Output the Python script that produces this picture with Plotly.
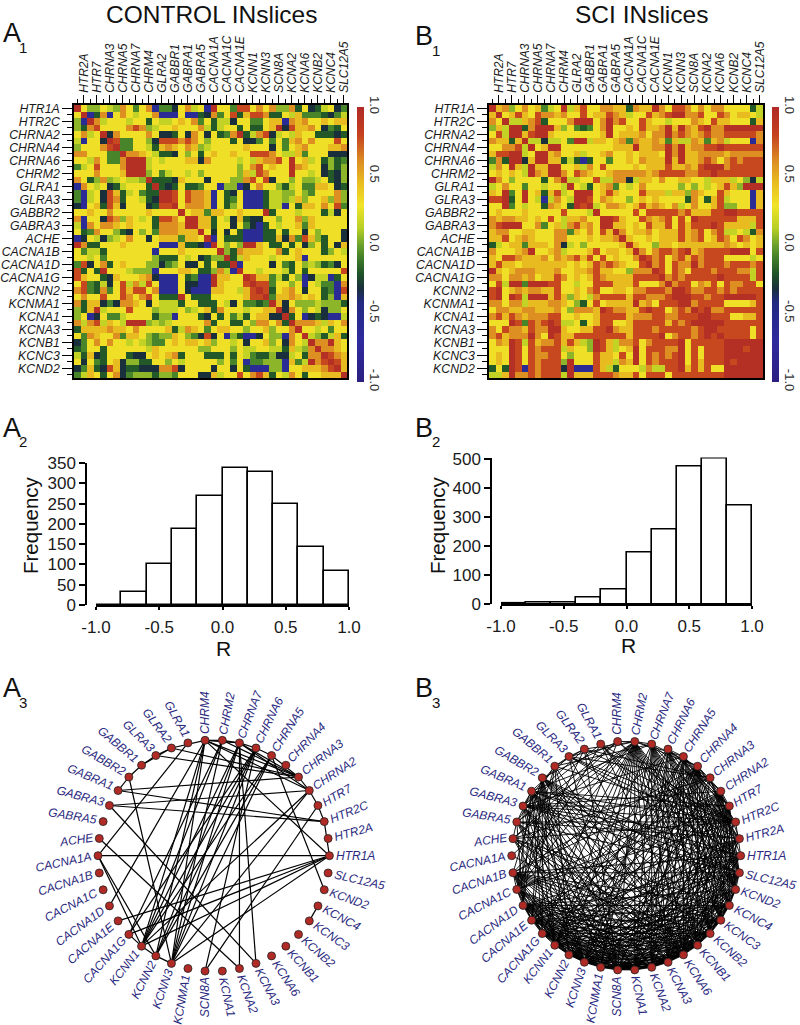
import math
import plotly.graph_objects as go

GENES = ["HTR1A","HTR2A","HTR2C","HTR7","CHRNA2","CHRNA3","CHRNA4","CHRNA5","CHRNA6","CHRNA7","CHRM2","CHRM4",
         "GLRA1","GLRA2","GLRA3","GABBR1","GABBR2","GABRA1","GABRA3","GABRA5","ACHE","CACNA1A","CACNA1B","CACNA1C",
         "CACNA1D","CACNA1E","CACNA1G","KCNN1","KCNN2","KCNN3","KCNMA1","SCN8A","KCNA1","KCNA2","KCNA3","KCNA6",
         "KCNB1","KCNB2","KCNC3","KCNC4","KCND2","SLC12A5"]
LABEL_TILT = [0,15,22,30,33,38,46,57,64,69,79,90,-61,-53,-45,-40,-30,-23,-15,-9,8,12,18,27,36,40,48,52,63,71,80,90,
              -78,-70,-63,-57,-48,-42,-35,-28,-20,-13]

# Correlation levels (upper triangle, each row starts on the diagonal)
LEVELS = {"9":0.95,"8":0.78,"7":0.6,"6":0.45,"5":0.3,"4":0.15,"3":0.05,"2":-0.08,"1":-0.2,"0":-0.32,"b":-0.6}
CONTROL_ROWS = [
"953354375257b2205745b 955288575733715014502",
"9b17b57545 57bbb5bb10 725816887115462221024",
"9745554551544565725 14405522566b767556566",
"855557873455655574 145515115690866750215",
"90755557500150750 512791478045465511101",
"9822553088878753 555150025252675755585",
"922554167657634 555556555052567555667",
"97765411053515 655655888754462555000",
"9994545556607 555545467785956451312",
"994555555555 555535785655976550313",
"93524554535 555536487555955450103",
"9111065550 555337858055353345103",
"910151125 5b33b0575531452266501",
"99858776 b5105bbb1443353255573",
"9858776 b5125bbb1443463556373",
"957776 b5135bbb144b516657582",
"95662 665565559155545551405",
"9966 154061005535573655555",
"966 1550520b1545562655555",
"95 05051bbb1151550535550",
"9 b5111bbb1160728631550",
"953539965115150351506",
"93176665571565551354",
"914655545556b555555",
"9b5555052153431205",
"95545554151555558",
"986624153b044b15",
"98825535b5422b7",
"981567505512b8",
"92667656513b6",
"960533343331",
"90753540335",
"915b010bb4",
"977764657",
"95545255",
"9431461",
"977965",
"97765",
"9876",
"986",
"96",
"9",
]
SCI_ROWS = [
"967357562459468557766 176697588757577555514",
"95686587767558566876 455867899778558756654",
"9446781555799957978 558655455576586655516",
"991799963521257955 658667969768977999999",
"96899655555556956 667577978767877888887",
"9440445299466567 276676264476267 4555b7",
"956995555555566 696677979677889888888",
"99675564556755 656665979667777677777",
"966141b155255 657666969667875787888",
"995564758555 565666866768999788888",
"97587655677 777678888778898888888",
"9445584477 046657556655466645304",
"954156725 457555553535456863999",
"99956865 5586664663765586555b6",
"9857655 3565655551751684555b6",
"945776 5686765745755683355b6",
"95555 585888887866688998888",
"9986 558767858598888886668",
"966 565866858688898666648",
"97 566756668678578445417",
"9 655656668678568758756",
"965536656666666765656",
"97578878967888899958",
"9878578687888555545",
"978587797888788878",
"98587588878887748",
"9787888889888848",
"978857685877885",
"99877887878888",
"9988788999998",
"978888555568",
"98977888888",
"9988855668",
"999888888",
"98888858",
"9888858",
"999999",
"99899",
"9999",
"999",
"99",
"9",
]
HIST_BINS = [-0.9,-0.7,-0.5,-0.3,-0.1,0.1,0.3,0.5,0.7,0.9]
CONTROL_FREQ = [0,33,100,187,268,337,327,250,144,84]
SCI_FREQ = [3,4,4,23,50,178,258,473,502,340]
CONTROL_EDGES = [(0,21),(0,27),(0,29),(0,26),(0,25),(0,11),(7,40),(38,39),(11,27),(11,28),(11,29),(11,5),(11,4),(11,9),
 (11,10),(11,24),(11,13),(10,27),(10,29),(10,26),(10,5),(10,9),(9,27),(9,28),(9,29),(9,33),(9,34),(9,5),(9,4),(9,8),
 (8,27),(8,28),(8,29),(8,31),(8,7),(8,26),(7,27),(7,28),(7,29),(7,5),(5,4),(4,3),(3,2),(2,0),(4,27),(4,29),(3,31),
 (17,5),(17,2),(18,4),(18,2),(18,34),(20,33),(16,29),(21,12),(21,27),(21,28),(13,5),(14,5),(13,14),(14,15),(15,16),
 (16,17),(26,27),(27,28),(28,29),(13,15)]
SCI_EDGE_CUTOFF = 0.55

COLORSCALE = [[0,"#2a1f80"],[0.15,"#2f2ba0"],[0.29,"#222a80"],[0.34,"#1a2f3c"],[0.39,"#1e5029"],[0.45,"#3f7d2a"],
              [0.5,"#6da32c"],[0.56,"#b8cf26"],[0.64,"#f0e428"],[0.725,"#e8bc20"],[0.8,"#dd8f22"],[0.9,"#c4401f"],[1,"#b02a26"]]
W, H = 800, 1025
FONT = "Liberation Sans"
INK = "#1a1a1a"
NAVY = "#2b2a80"
CHAR_W = dict(H=.722,T=.611,R=.722,A=.667,C=.722,N=.722,M=.833,G=.778,L=.556,B=.667,E=.667,K=.667,D=.722,S=.667,O=.778,F=.611)

def matrix(rows):
    n = len(GENES)
    m = [[0.0]*n for _ in range(n)]
    for i, row in enumerate(rows):
        for k, ch in enumerate(row.replace(" ", "")):
            if i + k < n:
                m[i][i+k] = m[i+k][i] = LEVELS[ch]
    return m

CONTROL = matrix(CONTROL_ROWS)
SCI = matrix(SCI_ROWS)
fx = lambda x: x / W
fy = lambda y: 1 - y / H
fig = go.Figure()
layout = {}
idx = list(range(len(GENES)))

def heat(z, n, box, cbar_x):
    x0, x1, y0, y1 = box
    xa, ya = ("xaxis%d" % n, "yaxis%d" % n)
    fig.add_trace(go.Heatmap(z=z, x=idx, y=idx, xaxis="x%d" % n, yaxis="y%d" % n, zmin=-1, zmax=1, colorscale=COLORSCALE,
        hoverinfo="skip",
        colorbar=dict(x=fx(cbar_x), xanchor="left", y=fy(107), yanchor="top", len=275/H, thickness=7, outlinewidth=0,
                      xpad=0, ypad=0, tickmode="array", tickvals=[-1,-.5,0,.5,1], ticktext=["-1.0","-0.5","0.0","0.5","1.0"],
                      tickangle=90, ticks="", tickfont=dict(size=13, color="#333", family=FONT))))
    odd = idx[1::2]; even = idx[0::2]
    layout[xa] = dict(domain=[fx(x0), fx(x1)], range=[-.5, 41.5], side="top", anchor="y%d" % n, showline=True, mirror=True,
        linecolor="black", linewidth=1.5, showgrid=False, zeroline=False, ticks="outside", ticklen=8, tickcolor="black", tickwidth=1,
        tickmode="array", tickvals=odd, ticktext=[GENES[i] for i in odd], tickangle=-90,
        tickfont=dict(size=12, family=FONT, style="italic", color=INK),
        minor=dict(ticks="outside", ticklen=4, tickcolor="black", tickwidth=1, tickmode="array", tickvals=even, showgrid=False))
    layout[ya] = dict(domain=[fy(y1), fy(y0)], range=[41.5, -.5], anchor="x%d" % n, showline=True, mirror=True,
        linecolor="black", linewidth=1.5, showgrid=False, zeroline=False, ticks="outside", ticklen=10, tickcolor="black", tickwidth=1,
        tickmode="array", tickvals=even, ticktext=[GENES[i] for i in even],
        tickfont=dict(size=12.3, family=FONT, style="italic", color=INK),
        minor=dict(ticks="outside", ticklen=5, tickcolor="black", tickwidth=1, tickmode="array", tickvals=odd, showgrid=False))

def hist(freq, n, box, axis_x, ymax, step):
    x0, x1, y0, y1 = box
    fig.add_trace(go.Bar(x=HIST_BINS, y=freq, width=0.2, xaxis="x%d" % n, yaxis="y%d" % n, cliponaxis=False, hoverinfo="skip",
                         marker=dict(color="white", line=dict(color="black", width=1.6))))
    tf = dict(size=17, family=FONT, color=INK)
    layout["xaxis%d" % n] = dict(domain=[fx(x0), fx(x1)], range=[-1, 1], anchor="y%d" % n, showline=True, linecolor="black",
        linewidth=1.5, showgrid=False, zeroline=False, ticks="outside", ticklen=3, tickcolor="black", tickwidth=1.5,
        ticklabelstandoff=3, tickmode="array", tickvals=[-1,-.5,0,.5,1], ticktext=["-1.0","-0.5","0.0","0.5","1.0"], tickfont=tf)
    layout["yaxis%d" % n] = dict(domain=[fy(y1), fy(y0)], range=[0, ymax], anchor="free", position=fx(axis_x), showline=True,
        linecolor="black", linewidth=1.5, showgrid=False, zeroline=False, ticks="outside", ticklen=6, tickcolor="black", tickwidth=1.5,
        tickmode="linear", tick0=0, dtick=step, tickfont=tf)

heat(CONTROL, 1, (74, 347, 105, 378), 357)
heat(SCI, 2, (489, 763, 105, 378), 772)
hist(CONTROL_FREQ, 3, (96, 349, 463, 605), 86, 350, 50)
hist(SCI_FREQ, 4, (501, 752, 457.5, 604), 491, 505, 100)

# Full-page pixel axes for the two circular networks
layout["xaxis5"] = dict(domain=[0, 1], range=[0, W], visible=False, anchor="y5")
layout["yaxis5"] = dict(domain=[0, 1], range=[H, 0], visible=False, anchor="x5")
annotations = []

def text_width(s, size):
    return sum(CHAR_W.get(c, .556) for c in s) * size

def network(edges, cx, cy, r, width):
    n = len(GENES)
    th = [2 * math.pi * i / n for i in range(n)]
    px = [cx + r * math.cos(t) for t in th]
    py = [cy - r * math.sin(t) for t in th]
    ex, ey = [], []
    for a, b in edges:
        ex += [px[a], px[b], None]
        ey += [py[a], py[b], None]
    fig.add_trace(go.Scatter(x=ex, y=ey, mode="lines", xaxis="x5", yaxis="y5", hoverinfo="skip",
                             line=dict(color="#000", width=width)))
    fig.add_trace(go.Scatter(x=px, y=py, mode="markers", xaxis="x5", yaxis="y5", hoverinfo="skip",
                             marker=dict(size=8, color="#b02a26", line=dict(color="#222", width=0.8))))
    size = 12
    for i in range(n):
        a = math.radians(LABEL_TILT[i])
        rx, ry = math.cos(th[i]), -math.sin(th[i])
        dx, dy = math.cos(a), -math.sin(a)
        if dx * rx + dy * ry < 0:
            dx, dy = -dx, -dy
        w = text_width(GENES[i], size)
        annotations.append(dict(xref="x5", yref="y5", x=px[i] + 6.5 * rx + w / 2 * dx, y=py[i] + 6.5 * ry + w / 2 * dy,
                                text=GENES[i], textangle=-LABEL_TILT[i], showarrow=False, xanchor="center", yanchor="middle",
                                font=dict(size=size, family=FONT, style="italic", color=NAVY)))

sci_edges = [(i, j) for i in idx for j in idx if i < j and SCI[i][j] >= SCI_EDGE_CUTOFF]
network(CONTROL_EDGES, 213.7, 855.7, 115.7, 1.2)
network(sci_edges, 626.2, 855.7, 114.5, 0.9)

def note(x, y, s, size, color="#111", angle=0, anchor="center"):
    annotations.append(dict(xref="paper", yref="paper", x=fx(x), y=fy(y), text=s, showarrow=False, xanchor=anchor, yanchor="middle",
                            textangle=angle, font=dict(size=size, family=FONT, color=color)))

note(211, 14, "CONTROL INslices", 24.5)
note(641, 14, "SCI INslices", 24.5)
for letter, x, y, sub, sx, sy in [("A",1,33,"1",23,47),("B",413,36,"1",436,50),("A",1,428,"2",23,442),("B",413,428,"2",436,442),
                                  ("A",1,688,"3",23,702),("B",413,688,"3",436,702)]:
    note(x, y, letter, 27, anchor="left")
    note(sx, sy, sub, 15)
note(223, 648, "R", 21)
note(628, 645, "R", 21)
note(30, 525, "Frequency", 20.5, angle=-90)
note(437, 525, "Frequency", 20.5, angle=-90)

fig.update_layout(width=W, height=H, margin=dict(l=0, r=0, t=0, b=0, autoexpand=False), paper_bgcolor="white", plot_bgcolor="rgba(0,0,0,0)",
                  showlegend=False, bargap=0, annotations=annotations, font=dict(family=FONT), **layout)
fig.write_html("out.html", config={"displayModeBar": False}, post_script="document.body.style.margin='0';")
